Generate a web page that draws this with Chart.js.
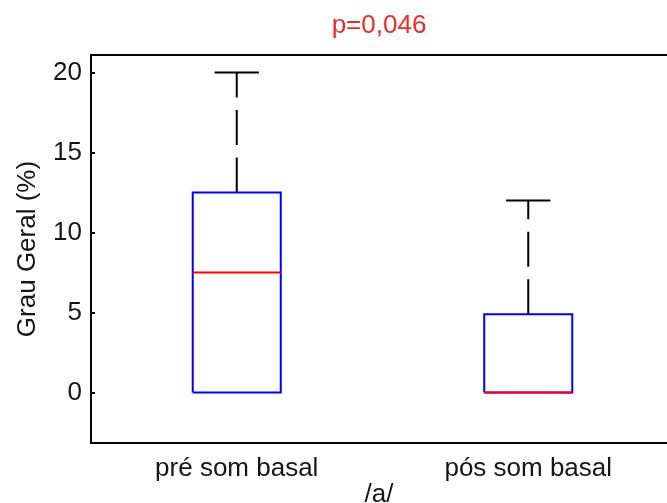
<!DOCTYPE html>
<html>
<head>
<meta charset="utf-8">
<script src="https://cdn.jsdelivr.net/npm/chart.js@4.4.1/dist/chart.umd.min.js"></script>
<style>
  html, body { margin: 0; padding: 0; background: #fff; overflow: hidden; }
  canvas { display: block; }
</style>
</head>
<body>
<canvas id="chart" width="667" height="503"></canvas>
<script>
// Box-plot summary for each group (values in %)
const categories   = ['pré som basal', 'pós som basal'];
const lowerWhisker = [0, 0];
const q1           = [0, 0];
const medians      = [7.5, 0];
const q3           = [12.5, 4.9];
const upperWhisker = [20, 12];
const yTicks       = [0, 5, 10, 15, 20];
const pValueText   = 'p=0,046';

// Geometry of the boxes, in x-axis units (groups sit at x = 1, 2, ...)
const BOX_HALF = 0.151;
const CAP_HALF = 0.076;

const FONT = "'Liberation Sans', Arial, sans-serif";
const TEXT = '#161616';

const line = (data, color, extra) => Object.assign({
  data, borderColor: color, borderWidth: 2, showLine: true,
  pointRadius: 0, pointHoverRadius: 0, fill: false, tension: 0
}, extra || {});

const datasets = [];
categories.forEach((name, i) => {
  const x = i + 1;
  // whiskers (dashed) and their caps; a whisker of zero length is hidden by the box
  if (upperWhisker[i] > q3[i]) {
    datasets.push(line([{x, y: q3[i]}, {x, y: upperWhisker[i]}], '#000', {label: name + ' upper whisker', borderDash: [35, 12.5], order: 3}));
    datasets.push(line([{x: x - CAP_HALF, y: upperWhisker[i]}, {x: x + CAP_HALF, y: upperWhisker[i]}], '#000', {label: name + ' upper cap', order: 3}));
  }
  if (lowerWhisker[i] < q1[i]) {
    datasets.push(line([{x, y: q1[i]}, {x, y: lowerWhisker[i]}], '#000', {label: name + ' lower whisker', borderDash: [35, 12.5], order: 3}));
    datasets.push(line([{x: x - CAP_HALF, y: lowerWhisker[i]}, {x: x + CAP_HALF, y: lowerWhisker[i]}], '#000', {label: name + ' lower cap', order: 3}));
  }
  // interquartile box
  datasets.push(line([
    {x: x - BOX_HALF, y: q1[i]}, {x: x + BOX_HALF, y: q1[i]},
    {x: x + BOX_HALF, y: q3[i]}, {x: x - BOX_HALF, y: q3[i]},
    {x: x - BOX_HALF, y: q1[i]}
  ], '#0000ff', {label: name + ' box', order: 2}));
  // median
  datasets.push(line([{x: x - BOX_HALF, y: medians[i]}, {x: x + BOX_HALF, y: medians[i]}], '#ff0000', {label: name + ' median', order: 1}));
});

// Small inward tick marks on the left axis
const innerTicks = {
  id: 'innerTicks',
  afterDatasetsDraw(chart) {
    const {ctx, chartArea, scales: {y}} = chart;
    ctx.save();
    ctx.strokeStyle = '#000';
    ctx.lineWidth = 2;
    y.ticks.forEach(t => {
      const py = Math.round(y.getPixelForValue(t.value));
      ctx.beginPath();
      ctx.moveTo(chartArea.left, py);
      ctx.lineTo(chartArea.left + 4, py);
      ctx.stroke();
    });
    ctx.restore();
  }
};

const X_MIN = 0.5, X_MAX = 2.476;

new Chart(document.getElementById('chart'), {
  type: 'scatter',
  data: { datasets },
  plugins: [innerTicks],
  options: {
    responsive: false,
    animation: false,
    devicePixelRatio: 1,
    layout: { padding: 0 },
    plugins: { legend: { display: false }, tooltip: { enabled: false } },
    scales: {
      x: {
        type: 'linear', position: 'bottom', min: X_MIN, max: X_MAX,
        afterBuildTicks: s => { s.ticks = categories.map((c, i) => ({ value: i + 1 })); },
        afterFit: s => { s.height = 60; },
        ticks: {
          callback: v => categories[v - 1], autoSkip: false, maxRotation: 0,
          padding: 10, color: TEXT, font: { family: FONT, size: 26 }
        },
        grid: { display: false, drawTicks: false },
        border: { display: true, color: '#000', width: 2 },
        title: {
          display: true, text: '/a/', color: TEXT,
          font: { family: FONT, size: 26, lineHeight: 0.65 }, padding: 0
        }
      },
      x2: {
        type: 'linear', position: 'top', min: X_MIN, max: X_MAX,
        afterBuildTicks: s => { s.ticks = []; },
        afterFit: s => { s.height = 55; },
        ticks: { display: false },
        grid: { display: false, drawTicks: false },
        border: { display: true, color: '#000', width: 2 },
        title: {
          display: true, text: pValueText, color: '#f02a2a',
          font: { family: FONT, size: 26, lineHeight: 1.2 }, padding: { top: 10, bottom: 0 }
        }
      },
      y: {
        type: 'linear', position: 'left', min: -3.15, max: 21.1,
        afterBuildTicks: s => { s.ticks = yTicks.map(v => ({ value: v })); },
        afterFit: s => { s.width = 91; },
        ticks: { padding: 9, color: TEXT, font: { family: FONT, size: 26 } },
        grid: { display: false, drawTicks: false },
        border: { display: true, color: '#000', width: 2 },
        title: {
          display: true, text: 'Grau Geral (%)', color: TEXT,
          font: { family: FONT, size: 26, lineHeight: 1.2 }, padding: { top: 12, bottom: 0 }
        }
      }
    }
  }
});
</script>
</body>
</html>
